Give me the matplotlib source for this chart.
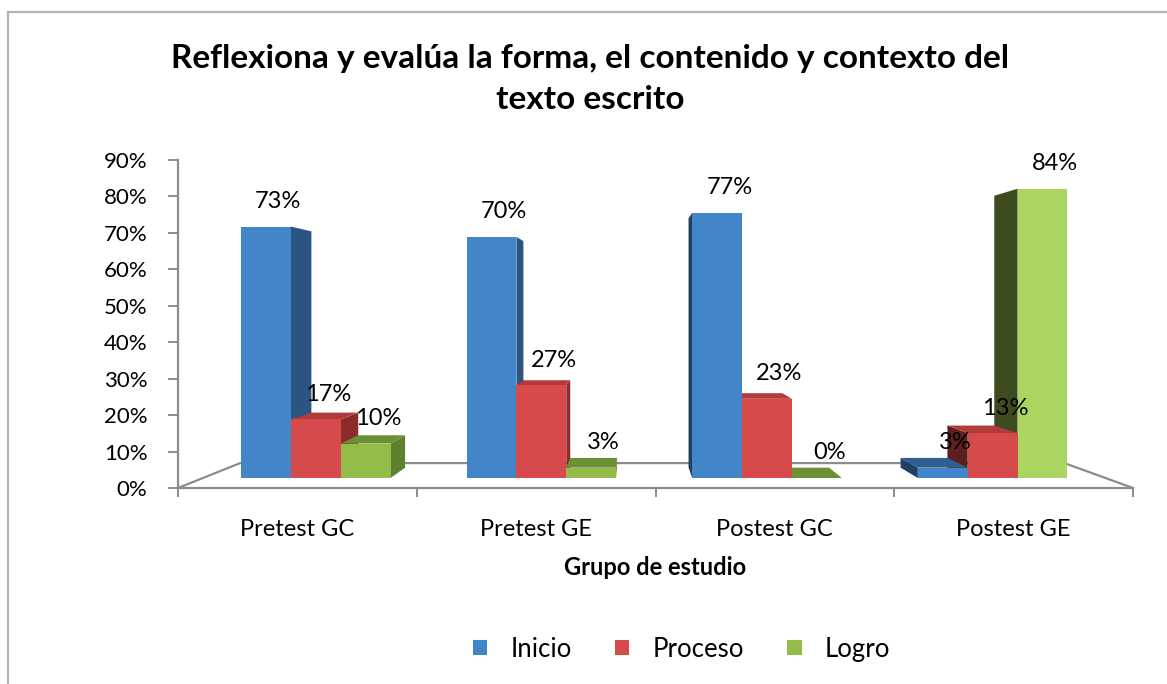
import matplotlib.pyplot as plt
from matplotlib.patches import Polygon, Patch
from matplotlib.lines import Line2D
import numpy as np

plt.rcParams['font.family'] = ['Lato', 'DejaVu Sans']

grupos = ['Pretest GC', 'Pretest GE', 'Postest GC', 'Postest GE']
series = ['Inicio', 'Proceso', 'Logro']
inicio = [73, 70, 77, 3]
proceso = [17, 27, 23, 13]
logro = [10, 3, 0, 84]
valores = [inicio, proceso, logro]

# colores: frente, lado derecho, lado izquierdo, tapa
frente = ['#4285c9', '#d64a4c', '#93bd48']
lado_der = ['#2a5482', '#8e2a2c', '#5f812d']
lado_izq = ['#1f3f63', '#5e1f20', '#3d4c1f']
tapa = ['#2f5f90', '#b23a3c', '#6c9135']
frente_verde4 = '#abd560'  # la barra alta de Postest GE es mas clara

# perspectiva simple: todo se escala hacia un punto de fuga
vp = np.array([1.9, 49.9])
s_front, s_back, s_floor = 0.945, 0.888, 0.863
ancho = 0.221


def proj(x, y, s):
    return vp + s * (np.array([x, y]) - vp)


fig = plt.figure(figsize=(11.67, 6.84), dpi=100)
ax = fig.add_axes([178 / 1167, 1 - 488 / 684, 955 / 1167, 328 / 684])
ax.set_xlim(0, 4)
ax.set_ylim(0, 90)

gris = '#8c8c8c'
for sp in ['top', 'right']:
    ax.spines[sp].set_visible(False)
for sp in ['left', 'bottom']:
    ax.spines[sp].set_color(gris)
    ax.spines[sp].set_linewidth(1.6)

ax.set_yticks(np.arange(0, 91, 10))
ax.set_yticklabels([f'{v}%' for v in range(0, 91, 10)], fontsize=16)
ax.tick_params(axis='y', direction='out', length=7, width=1.4, color=gris, pad=15)
ax.set_xticks(range(5))
ax.set_xticklabels([])
ax.set_xticks(np.arange(4) + 0.5, minor=True)
ax.set_xticklabels(grupos, minor=True, fontsize=17)
ax.tick_params(axis='x', which='major', direction='out', length=6.5, width=1.4, color=gris)
ax.tick_params(axis='x', which='minor', length=0, pad=22)
ax.set_xlabel('Grupo de estudio', fontsize=17, fontweight='bold', labelpad=12)

# piso
bl = proj(0, 0, s_floor)
br = proj(4, 0, s_floor)
ax.plot([0, bl[0], br[0], 4], [0, bl[1], br[1], 0], color=gris, lw=1.6,
        clip_on=False, zorder=1)

# caras de cada barra
barras = []
for i in range(len(grupos)):
    for k in range(3):
        x0 = i + 0.5 + (k - 1.5) * ancho
        barras.append((i, k, x0, x0 + ancho, valores[k][i]))

# primero las mas lejanas al punto de fuga
barras.sort(key=lambda b: -abs((b[2] + b[3]) / 2 - vp[0]))
z = 2
for i, k, x0, x1, v in barras:
    f0, f1 = proj(x0, 0, s_front), proj(x1, 0, s_front)
    f2, f3 = proj(x1, v, s_front), proj(x0, v, s_front)
    b0, b1 = proj(x0, 0, s_back), proj(x1, 0, s_back)
    b2, b3 = proj(x1, v, s_back), proj(x0, v, s_back)
    if x1 < vp[0]:
        ax.add_patch(Polygon([f1, b1, b2, f2], closed=True, fc=lado_der[k], ec='none', zorder=z))
    elif x0 > vp[0]:
        ax.add_patch(Polygon([f0, b0, b3, f3], closed=True, fc=lado_izq[k], ec='none', zorder=z))
    if v < vp[1]:
        ax.add_patch(Polygon([f3, f2, b2, b3], closed=True, fc=tapa[k], ec='none', zorder=z + 0.1))
    color = frente_verde4 if (k == 2 and v > 50) else frente[k]
    ax.add_patch(Polygon([f0, f1, f2, f3], closed=True, fc=color, ec='none', zorder=z + 0.2))
    ax.annotate(f'{v}%', ((f0[0] + f1[0]) / 2, f3[1]), xytext=(9, 18),
                textcoords='offset points', ha='center', va='center',
                fontsize=17, zorder=20, annotation_clip=False)
    z += 1

fig.suptitle('Reflexiona y evalúa la forma, el contenido y contexto del\ntexto escrito',
             x=0.506, y=0.935, fontsize=24, fontweight='bold', linespacing=1.5)

handles = [Patch(fc=c, ec='none') for c in frente]
fig.legend(handles, series, loc='center', bbox_to_anchor=(0.584, 0.051), ncol=3,
           frameon=False, fontsize=18.5, handlelength=0.55, handleheight=0.55,
           handletextpad=0.9, columnspacing=1.7)

# marco del grafico
fig.add_artist(Line2D([8 / 1167, 8 / 1167], [0, 1 - 12 / 684], color='#b4b4b4', lw=1.6))
fig.add_artist(Line2D([8 / 1167, 1], [1 - 12 / 684, 1 - 12 / 684], color='#b4b4b4', lw=1.6))

fig.savefig('out.png', dpi=100, facecolor='white')
